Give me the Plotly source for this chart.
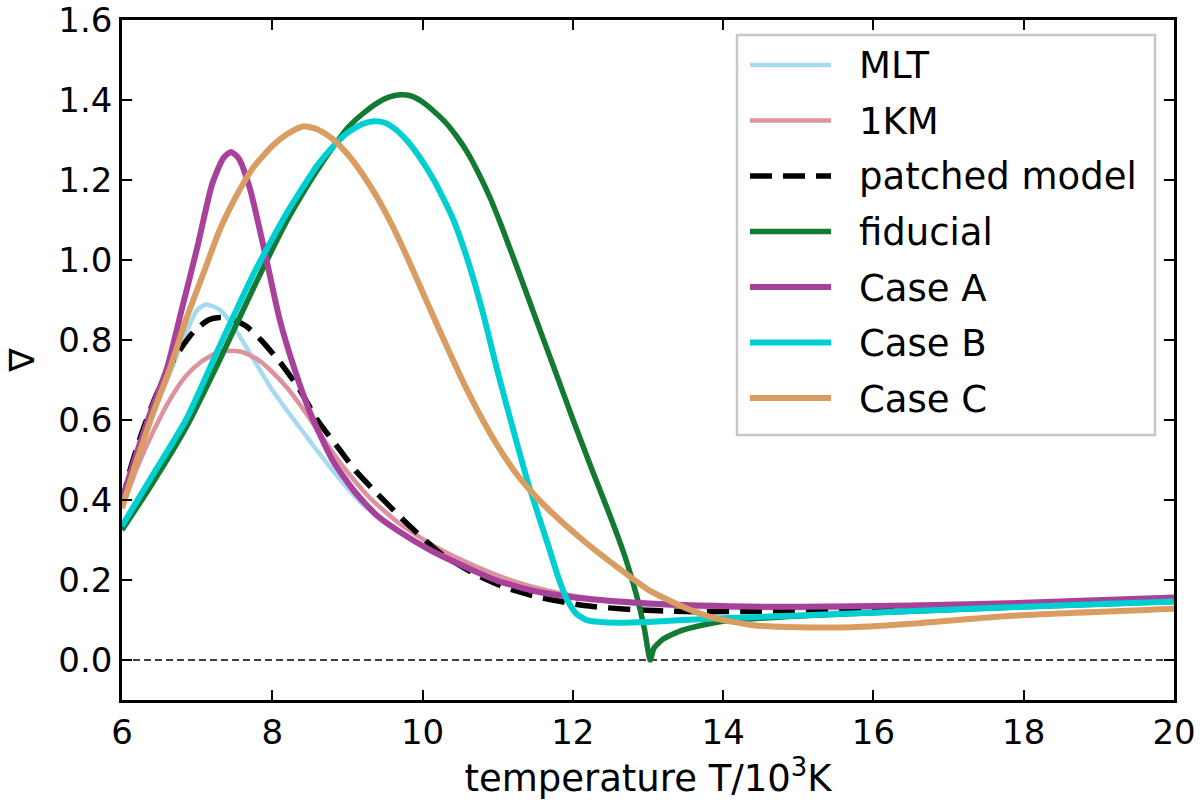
import plotly.graph_objects as go

# ---------------- data ----------------
T_MLT = [6.0, 6.2, 6.4, 6.6, 6.8, 7.0, 7.12, 7.3, 7.48, 7.75, 8.0, 8.37, 8.8, 9.2, 9.6,
         10.1, 10.6, 11.1, 11.7, 12.3, 13.0, 14.0, 16.0, 18.0, 20.0]
V_MLT = [0.40, 0.52, 0.62, 0.70, 0.795, 0.875, 0.889, 0.876, 0.835, 0.752, 0.675, 0.58, 0.475,
         0.39, 0.33, 0.275, 0.232, 0.197, 0.168, 0.15, 0.138, 0.13, 0.13, 0.14, 0.15]

T_1KM = [6.0, 6.2, 6.4, 6.65, 6.85, 7.05, 7.25, 7.4, 7.6, 7.8, 8.0, 8.2, 8.4, 8.6, 8.8, 9.0,
         9.3, 9.7, 10.2, 10.7, 11.2, 11.7, 12.3, 13.0, 14.0, 16.0, 18.0, 20.0]
V_1KM = [0.38, 0.48, 0.565, 0.655, 0.71, 0.745, 0.767, 0.773, 0.77, 0.752, 0.72, 0.68, 0.63,
         0.575, 0.52, 0.47, 0.405, 0.34, 0.28, 0.235, 0.198, 0.172, 0.152, 0.14, 0.132, 0.132,
         0.14, 0.15]

T_PATCH = [6.0, 6.1, 6.25, 6.45, 6.7, 6.95, 7.15, 7.3, 7.45, 7.65, 7.85, 8.1, 8.35, 8.6, 8.9,
           9.1, 9.35, 9.8, 10.25, 10.7, 11.1, 11.55, 12.15, 12.8, 13.5, 14.5, 16.0, 18.0, 20.0]
V_PATCH = [0.39, 0.47, 0.56, 0.66, 0.755, 0.82, 0.85, 0.856, 0.853, 0.835, 0.80, 0.745, 0.68,
           0.60, 0.525, 0.475, 0.425, 0.34, 0.265, 0.215, 0.181, 0.157, 0.136, 0.126, 0.121,
           0.122, 0.128, 0.138, 0.15]

T_FID = [6.0, 6.4, 6.85, 7.3, 7.75, 8.2, 8.4, 8.6, 8.8, 9.0, 9.2, 9.4, 9.55, 9.7, 9.85, 10.0,
         10.15, 10.3, 10.45, 10.6, 10.75, 10.9, 11.05, 11.25, 11.5, 11.75, 12.0, 12.25, 12.5,
         12.7, 12.85, 12.95, 13.03, 13.08, 13.2, 13.45, 13.75, 14.0, 15.0, 16.5, 18.0, 20.0]
V_FID = [0.325, 0.44, 0.58, 0.75, 0.93, 1.10, 1.165, 1.225, 1.28, 1.33, 1.365, 1.393, 1.407,
         1.413, 1.41, 1.395, 1.372, 1.345, 1.31, 1.268, 1.215, 1.155, 1.085, 0.985, 0.857,
         0.73, 0.602, 0.478, 0.358, 0.255, 0.16, 0.08, 0.0, 0.03, 0.052, 0.074, 0.088, 0.097,
         0.11, 0.122, 0.133, 0.146]

T_A = [6.0, 6.2, 6.4, 6.6, 6.8, 7.0, 7.2, 7.35, 7.45, 7.55, 7.7, 7.9, 8.1, 8.3, 8.5, 8.8, 9.1,
       9.4, 9.7, 10.1, 10.6, 11.0, 11.5, 12.0, 12.8, 13.7, 15.0, 16.5, 18.0, 20.0]
V_A = [0.40, 0.52, 0.63, 0.73, 0.88, 1.03, 1.19, 1.255, 1.27, 1.255, 1.18, 1.02, 0.85, 0.725,
       0.62, 0.50, 0.42, 0.36, 0.32, 0.275, 0.23, 0.198, 0.172, 0.157, 0.144, 0.136, 0.133,
       0.136, 0.143, 0.156]

T_B = [6.0, 6.4, 6.85, 7.3, 7.75, 8.2, 8.4, 8.6, 8.8, 9.0, 9.2, 9.35, 9.5, 9.65, 9.8, 9.95,
       10.15, 10.4, 10.6, 10.8, 11.0, 11.2, 11.4, 11.55, 11.7, 11.8, 11.92, 12.05, 12.2, 12.6,
       13.0, 13.9, 15.7, 17.7, 20.0]
V_B = [0.335, 0.46, 0.60, 0.785, 0.965, 1.12, 1.18, 1.237, 1.282, 1.318, 1.34, 1.347, 1.343,
       1.325, 1.297, 1.26, 1.20, 1.105, 1.00, 0.87, 0.72, 0.58, 0.445, 0.357, 0.27, 0.21,
       0.152, 0.115, 0.099, 0.093, 0.095, 0.104, 0.116, 0.131, 0.146]

T_C = [6.0, 6.2, 6.4, 6.65, 6.85, 7.1, 7.3, 7.55, 7.75, 8.0, 8.2, 8.41, 8.6, 8.8, 9.0, 9.2,
       9.4, 9.6, 9.8, 10.0, 10.2, 10.4, 10.6, 10.8, 11.0, 11.25, 11.5, 11.7, 12.15, 12.6, 13.0,
       13.5, 13.9, 14.4, 15.0, 15.7, 16.6, 17.7, 20.0]
V_C = [0.38, 0.50, 0.61, 0.735, 0.85, 0.975, 1.075, 1.17, 1.232, 1.285, 1.315, 1.334, 1.327,
       1.303, 1.265, 1.215, 1.155, 1.085, 1.005, 0.92, 0.835, 0.752, 0.672, 0.60, 0.535, 0.465,
       0.41, 0.372, 0.297, 0.231, 0.176, 0.13, 0.104, 0.087, 0.082, 0.082, 0.092, 0.109, 0.128]

SERIES = [
    ("MLT", T_MLT, V_MLT, "#a6d9f2", 4.5, "solid"),
    ("1KM", T_1KM, V_1KM, "#dc939e", 4.5, "solid"),
    ("patched model", T_PATCH, V_PATCH, "#000000", 5.5, "22px,11px"),
    ("fiducial", T_FID, V_FID, "#137a31", 5.5, "solid"),
    ("Case A", T_A, V_A, "#a8419a", 6, "solid"),
    ("Case B", T_B, V_B, "#00cfd1", 6, "solid"),
    ("Case C", T_C, V_C, "#d99d62", 6, "solid"),
]

FONT = "DejaVu Sans"
FS = 34

# figure layout in pixels
W, H = 1200, 807
ML, MR, MT, MB = 122, 26, 20, 107
PW, PH = W - ML - MR, H - MT - MB


def px_x(p):
    return (p - ML) / PW


def px_y(p):
    return (H - MB - p) / PH


# zero reference line (dashed, thin) spanning the axes
shapes = [dict(type="line", xref="paper", yref="y", x0=0, x1=1, y0=0, y1=0,
               line=dict(color="black", width=1.5, dash="7px,4px"), layer="below")]

# ---- legend box drawn to match the reference's (long line samples) ----
LX0, LX1, LY0, LY1 = 737, 1155, 35, 435
shapes.append(dict(type="rect", xref="paper", yref="paper",
                   x0=px_x(LX0), x1=px_x(LX1), y0=px_y(LY1), y1=px_y(LY0),
                   line=dict(color="#c8c8c8", width=2.5), fillcolor="white", layer="above"))
annotations = []
ROW0, ROWSTEP = 65, 55.5
for i, (name, xs, ys, col, w, dash) in enumerate(SERIES):
    ry_px = ROW0 + i * ROWSTEP
    shapes.append(dict(type="line", xref="paper", yref="paper",
                       x0=px_x(750), x1=px_x(831), y0=px_y(ry_px), y1=px_y(ry_px),
                       line=dict(color=col, width=w, dash=dash), layer="above"))
    annotations.append(dict(text=name, xref="paper", yref="paper",
                            x=px_x(857), y=px_y(ry_px + 1), xanchor="left", yanchor="middle",
                            showarrow=False,
                            font=dict(family=FONT, size=37, color="black")))

axis_common = dict(
    showline=True, linecolor="black", linewidth=2.5, mirror="ticks",
    ticks="inside", ticklen=10, tickwidth=2, tickcolor="black",
    showgrid=False, zeroline=False, ticklabeloverflow="allow", automargin=False,
    tickfont=dict(family=FONT, size=FS, color="black"),
)

layout = go.Layout(
    width=W, height=H,
    margin=dict(l=ML, r=MR, t=MT, b=MB, autoexpand=False),
    paper_bgcolor="white", plot_bgcolor="white",
    font=dict(family=FONT, size=FS, color="black"),
    xaxis=dict(range=[6, 20], tickvals=[6, 8, 10, 12, 14, 16, 18, 20],
               title=dict(text="temperature T/10<sup>3</sup>K", font=dict(family=FONT, size=37),
                          standoff=10),
               **axis_common),
    yaxis=dict(range=[-0.1, 1.6], tickvals=[0, 0.2, 0.4, 0.6, 0.8, 1.0, 1.2, 1.4, 1.6],
               ticktext=["0.0", "0.2", "0.4", "0.6", "0.8", "1.0", "1.2", "1.4", "1.6"],
               title=dict(text="∇", font=dict(family=FONT, size=35), standoff=14),
               **axis_common),
    shapes=shapes,
    annotations=annotations,
    showlegend=False,
)

fig = go.Figure(layout=layout)
for name, xs, ys, col, w, dash in SERIES:
    fig.add_trace(go.Scatter(
        x=xs, y=ys, mode="lines", name=name, showlegend=False,
        line=dict(color=col, width=w, dash=dash, shape="spline", smoothing=0.6),
    ))

fig.write_html("out.html")
